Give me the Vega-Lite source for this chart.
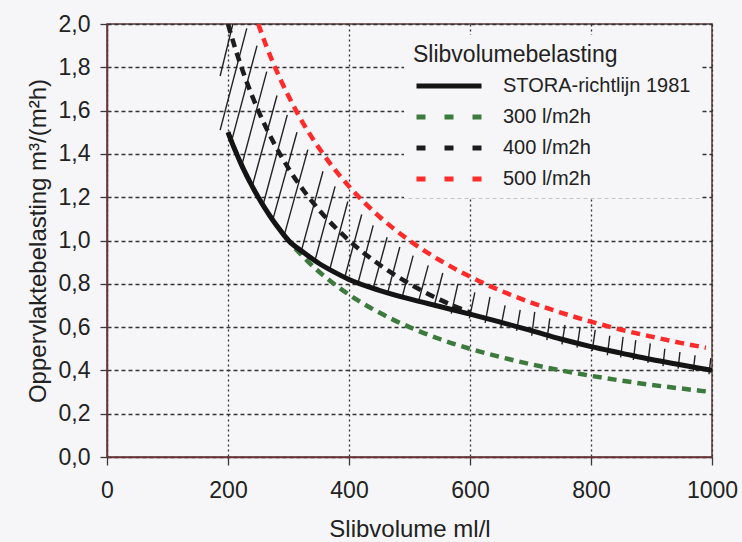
{
  "$schema": "https://vega.github.io/schema/vega-lite/v6.json",
  "width": 605,
  "height": 433,
  "autosize": {"type": "none"},
  "padding": {"left": 107, "top": 24, "right": 30, "bottom": 85},
  "background": "#f6f6f8",
  "config": {
    "font": "Liberation Sans",
    "view": {"stroke": "#5a3535", "strokeWidth": 1.5},
    "axis": {
      "domainColor": "#6b3535",
      "domainWidth": 1.5,
      "tickColor": "#3a3a3a",
      "tickWidth": 1.3,
      "tickSize": 7,
      "gridColor": "#333333",
      "gridWidth": 1.3,
      "gridOpacity": 1,
      "labelFont": "Liberation Sans",
      "labelFontSize": 23,
      "labelColor": "#222222",
      "titleFont": "Liberation Sans",
      "titleFontSize": 24,
      "titleFontWeight": "normal",
      "titleColor": "#222222"
    },
    "legend": {
      "titleFont": "Liberation Sans",
      "titleFontSize": 23,
      "titleFontWeight": "normal",
      "titleColor": "#222222",
      "titleLimit": 400,
      "labelFont": "Liberation Sans",
      "labelFontSize": 20,
      "labelColor": "#222222",
      "labelLimit": 400
    }
  },
  "datasets": {
    "curves": [
      {"series": "STORA-richtlijn 1981", "slibvolume": 200, "belasting": 1.5},
      {"series": "STORA-richtlijn 1981", "slibvolume": 212, "belasting": 1.415},
      {"series": "STORA-richtlijn 1981", "slibvolume": 225, "belasting": 1.333},
      {"series": "STORA-richtlijn 1981", "slibvolume": 237, "belasting": 1.266},
      {"series": "STORA-richtlijn 1981", "slibvolume": 250, "belasting": 1.2},
      {"series": "STORA-richtlijn 1981", "slibvolume": 262, "belasting": 1.145},
      {"series": "STORA-richtlijn 1981", "slibvolume": 275, "belasting": 1.09},
      {"series": "STORA-richtlijn 1981", "slibvolume": 287, "belasting": 1.045},
      {"series": "STORA-richtlijn 1981", "slibvolume": 300, "belasting": 1.0},
      {"series": "STORA-richtlijn 1981", "slibvolume": 325, "belasting": 0.945},
      {"series": "STORA-richtlijn 1981", "slibvolume": 350, "belasting": 0.895},
      {"series": "STORA-richtlijn 1981", "slibvolume": 375, "belasting": 0.855},
      {"series": "STORA-richtlijn 1981", "slibvolume": 400, "belasting": 0.82},
      {"series": "STORA-richtlijn 1981", "slibvolume": 450, "belasting": 0.77},
      {"series": "STORA-richtlijn 1981", "slibvolume": 500, "belasting": 0.73},
      {"series": "STORA-richtlijn 1981", "slibvolume": 550, "belasting": 0.695},
      {"series": "STORA-richtlijn 1981", "slibvolume": 600, "belasting": 0.66},
      {"series": "STORA-richtlijn 1981", "slibvolume": 650, "belasting": 0.623},
      {"series": "STORA-richtlijn 1981", "slibvolume": 700, "belasting": 0.585},
      {"series": "STORA-richtlijn 1981", "slibvolume": 750, "belasting": 0.545},
      {"series": "STORA-richtlijn 1981", "slibvolume": 800, "belasting": 0.51},
      {"series": "STORA-richtlijn 1981", "slibvolume": 850, "belasting": 0.48},
      {"series": "STORA-richtlijn 1981", "slibvolume": 900, "belasting": 0.45},
      {"series": "STORA-richtlijn 1981", "slibvolume": 950, "belasting": 0.425},
      {"series": "STORA-richtlijn 1981", "slibvolume": 1000, "belasting": 0.4},

      {"series": "300 l/m2h", "slibvolume": 200, "belasting": 1.5},
      {"series": "300 l/m2h", "slibvolume": 225, "belasting": 1.333},
      {"series": "300 l/m2h", "slibvolume": 250, "belasting": 1.2},
      {"series": "300 l/m2h", "slibvolume": 275, "belasting": 1.091},
      {"series": "300 l/m2h", "slibvolume": 300, "belasting": 1.0},
      {"series": "300 l/m2h", "slibvolume": 325, "belasting": 0.923},
      {"series": "300 l/m2h", "slibvolume": 350, "belasting": 0.857},
      {"series": "300 l/m2h", "slibvolume": 400, "belasting": 0.75},
      {"series": "300 l/m2h", "slibvolume": 450, "belasting": 0.667},
      {"series": "300 l/m2h", "slibvolume": 500, "belasting": 0.6},
      {"series": "300 l/m2h", "slibvolume": 550, "belasting": 0.545},
      {"series": "300 l/m2h", "slibvolume": 600, "belasting": 0.5},
      {"series": "300 l/m2h", "slibvolume": 650, "belasting": 0.462},
      {"series": "300 l/m2h", "slibvolume": 700, "belasting": 0.429},
      {"series": "300 l/m2h", "slibvolume": 750, "belasting": 0.4},
      {"series": "300 l/m2h", "slibvolume": 800, "belasting": 0.375},
      {"series": "300 l/m2h", "slibvolume": 850, "belasting": 0.353},
      {"series": "300 l/m2h", "slibvolume": 900, "belasting": 0.333},
      {"series": "300 l/m2h", "slibvolume": 950, "belasting": 0.316},
      {"series": "300 l/m2h", "slibvolume": 990, "belasting": 0.303},

      {"series": "400 l/m2h", "slibvolume": 200, "belasting": 2.0},
      {"series": "400 l/m2h", "slibvolume": 212, "belasting": 1.887},
      {"series": "400 l/m2h", "slibvolume": 225, "belasting": 1.778},
      {"series": "400 l/m2h", "slibvolume": 250, "belasting": 1.6},
      {"series": "400 l/m2h", "slibvolume": 275, "belasting": 1.455},
      {"series": "400 l/m2h", "slibvolume": 300, "belasting": 1.333},
      {"series": "400 l/m2h", "slibvolume": 325, "belasting": 1.231},
      {"series": "400 l/m2h", "slibvolume": 350, "belasting": 1.143},
      {"series": "400 l/m2h", "slibvolume": 400, "belasting": 1.0},
      {"series": "400 l/m2h", "slibvolume": 450, "belasting": 0.889},
      {"series": "400 l/m2h", "slibvolume": 500, "belasting": 0.8},
      {"series": "400 l/m2h", "slibvolume": 550, "belasting": 0.727},
      {"series": "400 l/m2h", "slibvolume": 600, "belasting": 0.667},

      {"series": "500 l/m2h", "slibvolume": 250, "belasting": 2.0},
      {"series": "500 l/m2h", "slibvolume": 262, "belasting": 1.908},
      {"series": "500 l/m2h", "slibvolume": 275, "belasting": 1.818},
      {"series": "500 l/m2h", "slibvolume": 300, "belasting": 1.667},
      {"series": "500 l/m2h", "slibvolume": 325, "belasting": 1.538},
      {"series": "500 l/m2h", "slibvolume": 350, "belasting": 1.429},
      {"series": "500 l/m2h", "slibvolume": 375, "belasting": 1.333},
      {"series": "500 l/m2h", "slibvolume": 400, "belasting": 1.25},
      {"series": "500 l/m2h", "slibvolume": 450, "belasting": 1.111},
      {"series": "500 l/m2h", "slibvolume": 500, "belasting": 1.0},
      {"series": "500 l/m2h", "slibvolume": 550, "belasting": 0.909},
      {"series": "500 l/m2h", "slibvolume": 600, "belasting": 0.833},
      {"series": "500 l/m2h", "slibvolume": 650, "belasting": 0.769},
      {"series": "500 l/m2h", "slibvolume": 700, "belasting": 0.714},
      {"series": "500 l/m2h", "slibvolume": 750, "belasting": 0.667},
      {"series": "500 l/m2h", "slibvolume": 800, "belasting": 0.625},
      {"series": "500 l/m2h", "slibvolume": 850, "belasting": 0.588},
      {"series": "500 l/m2h", "slibvolume": 900, "belasting": 0.556},
      {"series": "500 l/m2h", "slibvolume": 950, "belasting": 0.526},
      {"series": "500 l/m2h", "slibvolume": 990, "belasting": 0.505}
    ],
    "hatch": [
      {"slibvolume": 187, "belasting": 1.76, "slibvolume_top": 208, "belasting_top": 2.0},
      {"slibvolume": 187, "belasting": 1.51, "slibvolume_top": 231, "belasting_top": 1.98},
      {"slibvolume": 205, "belasting": 1.45, "slibvolume_top": 248, "belasting_top": 1.9},
      {"slibvolume": 223, "belasting": 1.35, "slibvolume_top": 264, "belasting_top": 1.78},
      {"slibvolume": 240, "belasting": 1.25, "slibvolume_top": 281, "belasting_top": 1.67},
      {"slibvolume": 258, "belasting": 1.165, "slibvolume_top": 298, "belasting_top": 1.58},
      {"slibvolume": 274, "belasting": 1.095, "slibvolume_top": 314, "belasting_top": 1.5},
      {"slibvolume": 293, "belasting": 1.025, "slibvolume_top": 332, "belasting_top": 1.42},
      {"slibvolume": 321, "belasting": 0.95, "slibvolume_top": 357, "belasting_top": 1.32},
      {"slibvolume": 343, "belasting": 0.9, "slibvolume_top": 377, "belasting_top": 1.25},
      {"slibvolume": 368, "belasting": 0.865, "slibvolume_top": 398, "belasting_top": 1.18},
      {"slibvolume": 393, "belasting": 0.83, "slibvolume_top": 421, "belasting_top": 1.12},
      {"slibvolume": 415, "belasting": 0.805, "slibvolume_top": 440, "belasting_top": 1.07},
      {"slibvolume": 440, "belasting": 0.78, "slibvolume_top": 463, "belasting_top": 1.015},
      {"slibvolume": 464, "belasting": 0.76, "slibvolume_top": 484, "belasting_top": 0.97},
      {"slibvolume": 488, "belasting": 0.74, "slibvolume_top": 506, "belasting_top": 0.93},
      {"slibvolume": 515, "belasting": 0.72, "slibvolume_top": 531, "belasting_top": 0.885},
      {"slibvolume": 541, "belasting": 0.7, "slibvolume_top": 555, "belasting_top": 0.85},
      {"slibvolume": 569, "belasting": 0.662, "slibvolume_top": 580, "belasting_top": 0.8},
      {"slibvolume": 599, "belasting": 0.64, "slibvolume_top": 608, "belasting_top": 0.76},
      {"slibvolume": 625, "belasting": 0.62, "slibvolume_top": 633, "belasting_top": 0.74},
      {"slibvolume": 651, "belasting": 0.6, "slibvolume_top": 658, "belasting_top": 0.7},
      {"slibvolume": 677, "belasting": 0.583, "slibvolume_top": 683, "belasting_top": 0.68},
      {"slibvolume": 702, "belasting": 0.56, "slibvolume_top": 707, "belasting_top": 0.67},
      {"slibvolume": 727, "belasting": 0.54, "slibvolume_top": 732, "belasting_top": 0.64},
      {"slibvolume": 752, "belasting": 0.52, "slibvolume_top": 757, "belasting_top": 0.61},
      {"slibvolume": 777, "belasting": 0.505, "slibvolume_top": 782, "belasting_top": 0.6},
      {"slibvolume": 802, "belasting": 0.49, "slibvolume_top": 807, "belasting_top": 0.587},
      {"slibvolume": 827, "belasting": 0.47, "slibvolume_top": 831, "belasting_top": 0.56},
      {"slibvolume": 849, "belasting": 0.46, "slibvolume_top": 853, "belasting_top": 0.555},
      {"slibvolume": 870, "belasting": 0.448, "slibvolume_top": 874, "belasting_top": 0.54},
      {"slibvolume": 894, "belasting": 0.435, "slibvolume_top": 898, "belasting_top": 0.525},
      {"slibvolume": 919, "belasting": 0.42, "slibvolume_top": 922, "belasting_top": 0.5},
      {"slibvolume": 944, "belasting": 0.408, "slibvolume_top": 947, "belasting_top": 0.485},
      {"slibvolume": 969, "belasting": 0.395, "slibvolume_top": 972, "belasting_top": 0.47},
      {"slibvolume": 995, "belasting": 0.382, "slibvolume_top": 998, "belasting_top": 0.457}
    ]
  },
  "encoding": {
    "x": {"field": "slibvolume", "type": "quantitative", "title": "Slibvolume ml/l"},
    "y": {"field": "belasting", "type": "quantitative", "title": "Oppervlaktebelasting m³/(m²h)"}
  },
  "layer": [
    {
      "data": {"name": "hatch"},
      "mark": {"type": "rule", "color": "#222222", "strokeWidth": 1.4, "clip": true},
      "encoding": {
        "x": {
          "field": "slibvolume",
          "type": "quantitative",
          "title": "Slibvolume ml/l",
          "scale": {"domain": [0, 1000], "nice": false, "zero": false},
          "axis": {
            "values": [0, 200, 400, 600, 800, 1000],
            "format": "d",
            "tickSize": 8,
            "labelPadding": 14,
            "titlePadding": 15,
            "gridDash": [2, 3],
            "labelFlush": false
          }
        },
        "y": {
          "field": "belasting",
          "type": "quantitative",
          "title": "Oppervlaktebelasting m³/(m²h)",
          "scale": {"domain": [0, 2], "nice": false},
          "axis": {
            "values": [0, 0.2, 0.4, 0.6, 0.8, 1.0, 1.2, 1.4, 1.6, 1.8, 2.0],
            "labelExpr": "replace(format(datum.value, '.1f'), '.', ',')",
            "labelPadding": 10,
            "titlePadding": 8,
            "gridDash": [4, 3],
            "labelFlush": false
          }
        },
        "x2": {"field": "slibvolume_top"},
        "y2": {"field": "belasting_top"}
      }
    },
    {
      "data": {"name": "curves"},
      "transform": [{"filter": "datum.series === '300 l/m2h'"}],
      "mark": {"type": "line", "strokeWidth": 4.5, "strokeDash": [9, 6], "interpolate": "monotone", "clip": true},
      "encoding": {"color": {"field": "series", "type": "nominal"}}
    },
    {
      "data": {"name": "curves"},
      "transform": [{"filter": "datum.series === '400 l/m2h'"}],
      "mark": {"type": "line", "strokeWidth": 4.5, "strokeDash": [9, 6], "interpolate": "monotone", "clip": true},
      "encoding": {"color": {"field": "series", "type": "nominal"}}
    },
    {
      "data": {"name": "curves"},
      "transform": [{"filter": "datum.series === '500 l/m2h'"}],
      "mark": {"type": "line", "strokeWidth": 4.5, "strokeDash": [9, 6], "interpolate": "monotone", "clip": true},
      "encoding": {"color": {"field": "series", "type": "nominal"}}
    },
    {
      "data": {"name": "curves"},
      "transform": [{"filter": "datum.series === 'STORA-richtlijn 1981'"}],
      "mark": {"type": "line", "strokeWidth": 5, "interpolate": "monotone", "clip": true},
      "encoding": {
        "color": {
          "field": "series",
          "type": "nominal",
          "title": "Slibvolumebelasting",
          "scale": {
            "domain": ["STORA-richtlijn 1981", "300 l/m2h", "400 l/m2h", "500 l/m2h"],
            "range": ["#141414", "#3d7a3d", "#1c1c1c", "#ff2a2a"]
          },
          "legend": {
            "orient": "none",
            "legendX": 297,
            "legendY": 11,
            "padding": 9,
            "fillColor": "#f6f6f8",
            "symbolType": "M-1,0H9",
            "symbolSize": 169,
            "symbolStrokeWidth": 5,
            "labelOffset": 70,
            "rowPadding": 11,
            "titlePadding": 9,
            "encoding": {
              "symbols": {
                "strokeDash": {
                  "condition": {"test": "datum.value === 'STORA-richtlijn 1981'", "value": [1, 0]},
                  "value": [9, 19]
                }
              }
            }
          }
        }
      }
    }
  ]
}
